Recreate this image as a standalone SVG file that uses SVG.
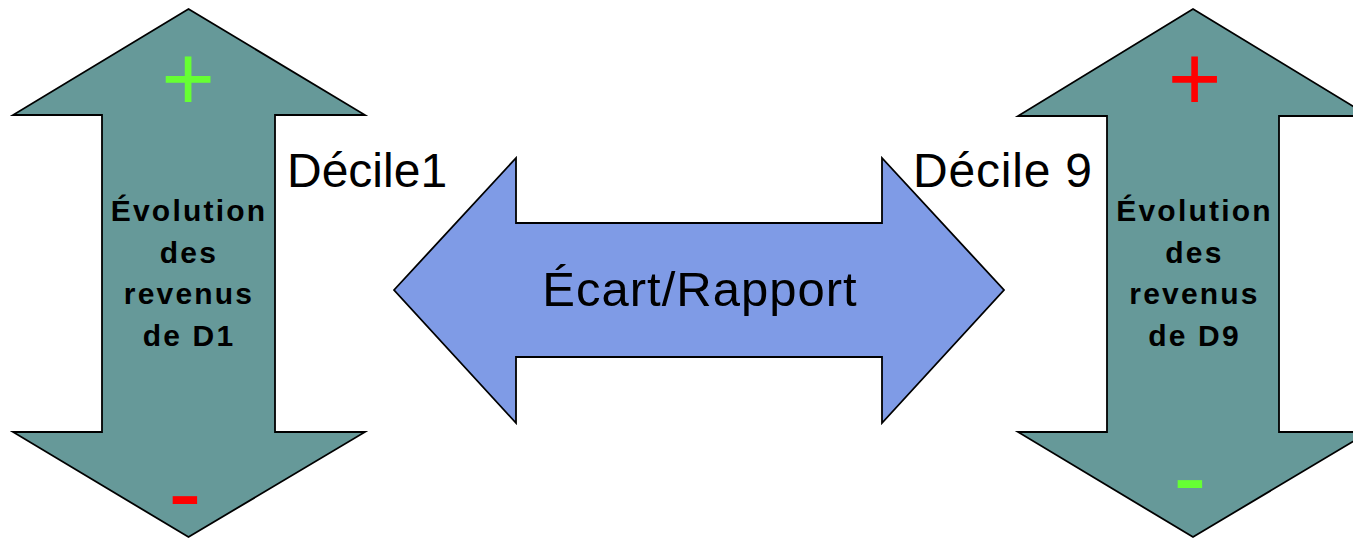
<svg xmlns="http://www.w3.org/2000/svg" width="1353" height="539" viewBox="0 0 1353 539">
<style>
.teal{fill:#669999;stroke:#000;stroke-width:1.8;stroke-linejoin:miter}
.blue{fill:#7f9be6;stroke:#000;stroke-width:1.8;stroke-linejoin:miter}
.body{font-family:"Liberation Sans",Arial,sans-serif;font-weight:bold;font-size:30px;letter-spacing:2.2px;fill:#000;text-anchor:middle}
.lbl{font-family:"Liberation Sans",Arial,sans-serif;font-size:48px;fill:#000}
.sign{font-family:"Liberation Sans",Arial,sans-serif;text-anchor:middle}
</style>
<rect width="1353" height="539" fill="#fff"/>
<g id="connectors">
<g id="ecart">
<polygon class="blue" points="394,290 516,158 516,223 882,223 882,158 1004,290 882,423 882,357 516,357 516,423"/>
<text class="lbl" x="700" y="306" text-anchor="middle" style="font-size:49px;letter-spacing:1px">Écart/Rapport</text>
</g>
</g>
<g id="d1">
<polygon class="teal" points="188.5,9 365,115 275,115 275,432 365,432 188.5,537 13,432 102,432 102,115 13,115"/>
<text class="sign" x="188" y="110" font-size="92" fill="#66ff33">+</text>
<text class="sign" x="185" y="527" font-size="100" fill="#ff0000">-</text>
<text class="body" x="189" y="221">Évolution</text>
<text class="body" x="189" y="262.5">des</text>
<text class="body" x="189" y="304">revenus</text>
<text class="body" x="189" y="345.5">de D1</text>
</g>
<g id="label-d1">
<text class="lbl" x="287" y="187">Décile1</text>
</g>
<g id="d9">
<polygon class="teal" points="1193,9 1369,116 1279,116 1279,432 1369,432 1193,537 1018,432 1107,432 1107,116 1018,116"/>
<text class="sign" x="1194.5" y="110" font-size="92" fill="#ff0000">+</text>
<text class="sign" x="1190" y="511" font-size="100" fill="#66ff33">-</text>
<text class="body" x="1194.5" y="221">Évolution</text>
<text class="body" x="1194.5" y="262.5">des</text>
<text class="body" x="1194.5" y="304">revenus</text>
<text class="body" x="1194.5" y="345.5">de D9</text>
</g>
<g id="label-d9">
<text class="lbl" x="913" y="187" style="letter-spacing:0.8px">Décile 9</text>
</g>
</svg>
